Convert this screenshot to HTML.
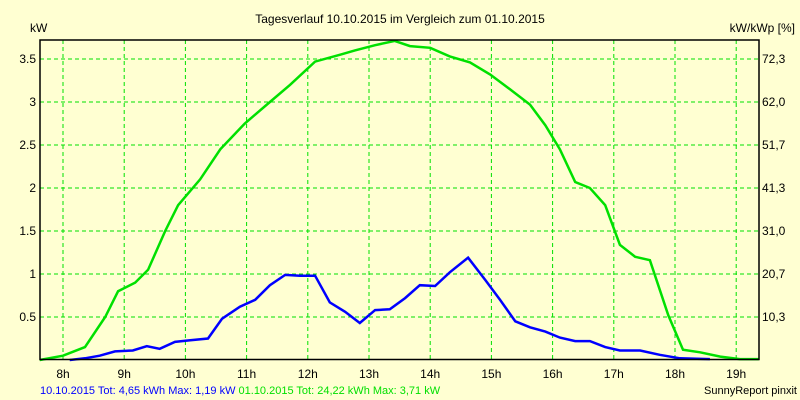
<!DOCTYPE html>
<html><head><meta charset="utf-8"><style>
body{margin:0;background:#FFFFD2;}
svg{display:block;font-family:"Liberation Sans",sans-serif;font-size:12px;}
</style></head><body>
<svg id="chart" width="800" height="400">
<rect width="800" height="400" fill="#FFFFD2"/>
<text x="400" y="23" text-anchor="middle">Tagesverlauf 10.10.2015 im Vergleich zum 01.10.2015</text>
<text x="30" y="32">kW</text>
<text x="795" y="32" text-anchor="end">kW/kWp [%]</text>
<g id="grid"></g>
<g id="series"></g>
<rect x="40" y="40" width="719" height="319.5" fill="none" stroke="#000" stroke-width="1.5"/>
<g id="labels"></g>
<text x="40" y="394" font-size="11"><tspan fill="#0000FF">10.10.2015 Tot: 4,65 kWh Max: 1,19 kW</tspan><tspan fill="#00E000"> 01.10.2015 Tot: 24,22 kWh Max: 3,71 kW</tspan></text>
<text x="797" y="394" font-size="11" text-anchor="end">SunnyReport pinxit</text>
</svg>
<script>
const yTicks=[0.5,1,1.5,2,2.5,3,3.5];
const yTickLabels=["0.5","1","1.5","2","2.5","3","3.5"];
const rightTickLabels=["10,3","20,7","31,0","41,3","51,7","62,0","72,3"];
const xTicks=[8,9,10,11,12,13,14,15,16,17,18,19];
const xTickLabels=["8h","9h","10h","11h","12h","13h","14h","15h","16h","17h","18h","19h"];
const greenTimes=[7.62,8.0,8.36,8.69,8.9,9.18,9.39,9.67,9.88,10.24,10.57,10.97,11.38,11.71,12.12,12.53,12.77,13.1,13.42,13.67,14.0,14.32,14.65,14.98,15.3,15.63,15.88,16.12,16.37,16.61,16.86,17.1,17.35,17.59,17.89,18.13,18.41,18.74,19.06,19.37];
const greenValues=[0,0.05,0.15,0.5,0.8,0.9,1.05,1.5,1.8,2.1,2.45,2.75,3.0,3.2,3.47,3.55,3.6,3.66,3.71,3.65,3.63,3.53,3.46,3.32,3.15,2.97,2.73,2.45,2.07,2.0,1.8,1.34,1.2,1.16,0.52,0.12,0.09,0.04,0.01,0.01];
const blueTimes=[8.11,8.36,8.6,8.85,9.14,9.37,9.58,9.83,10.08,10.37,10.6,10.89,11.14,11.38,11.63,11.87,12.12,12.36,12.61,12.85,13.1,13.34,13.59,13.83,14.08,14.32,14.62,14.9,15.14,15.39,15.63,15.88,16.12,16.37,16.61,16.86,17.1,17.43,17.75,18.08,18.57];
const blueValues=[0,0.02,0.05,0.1,0.11,0.16,0.13,0.21,0.23,0.25,0.48,0.62,0.7,0.87,0.99,0.98,0.98,0.67,0.56,0.43,0.58,0.59,0.72,0.87,0.86,1.02,1.19,0.93,0.7,0.45,0.38,0.33,0.26,0.22,0.22,0.15,0.11,0.11,0.06,0.02,0.01];

const NS="http://www.w3.org/2000/svg";
const X0=40,X1=759,Y0=359.5,Y1=40;
const T0=7.625,HOUR=61.2;
function xs(t){return 63+(t-8)*HOUR;}
function ys(v){return 360-v*86;}
function mk(tag,attrs,parent){const e=document.createElementNS(NS,tag);for(const k in attrs)e.setAttribute(k,attrs[k]);parent.appendChild(e);return e;}
const grid=document.getElementById('grid'),labels=document.getElementById('labels'),series=document.getElementById('series');
yTicks.forEach((v,i)=>{
  const l=mk('line',{x1:X0,x2:X1,y1:ys(v),y2:ys(v),stroke:'#00E000','stroke-dasharray':'4,3','stroke-width':1},grid);
  
  
  const t=mk('text',{x:X0-4,y:ys(v)+4,'text-anchor':'end'},labels);t.textContent=yTickLabels[i];
  
  
  const r=mk('text',{x:X1+3,y:ys(v)+4},labels);r.textContent=rightTickLabels[i];
  
  
});
xTicks.forEach((h,i)=>{
  const l=mk('line',{x1:xs(h),x2:xs(h),y1:Y1,y2:Y0,stroke:'#00E000','stroke-dasharray':'4,3','stroke-width':1},grid);
  
  
  const t=mk('text',{x:xs(h),y:378,'text-anchor':'middle'},labels);t.textContent=xTickLabels[i];
  
  
});
function pts(ts,vs){return ts.map((t,i)=>xs(t).toFixed(1)+','+ys(vs[i]).toFixed(1)).join(' ');}
const g=mk('polyline',{points:pts(greenTimes,greenValues),fill:'none',stroke:'#00E000','stroke-width':2.5},series);


const b=mk('polyline',{points:pts(blueTimes,blueValues),fill:'none',stroke:'#0000FF','stroke-width':2.5},series);


</script>
</body></html>
